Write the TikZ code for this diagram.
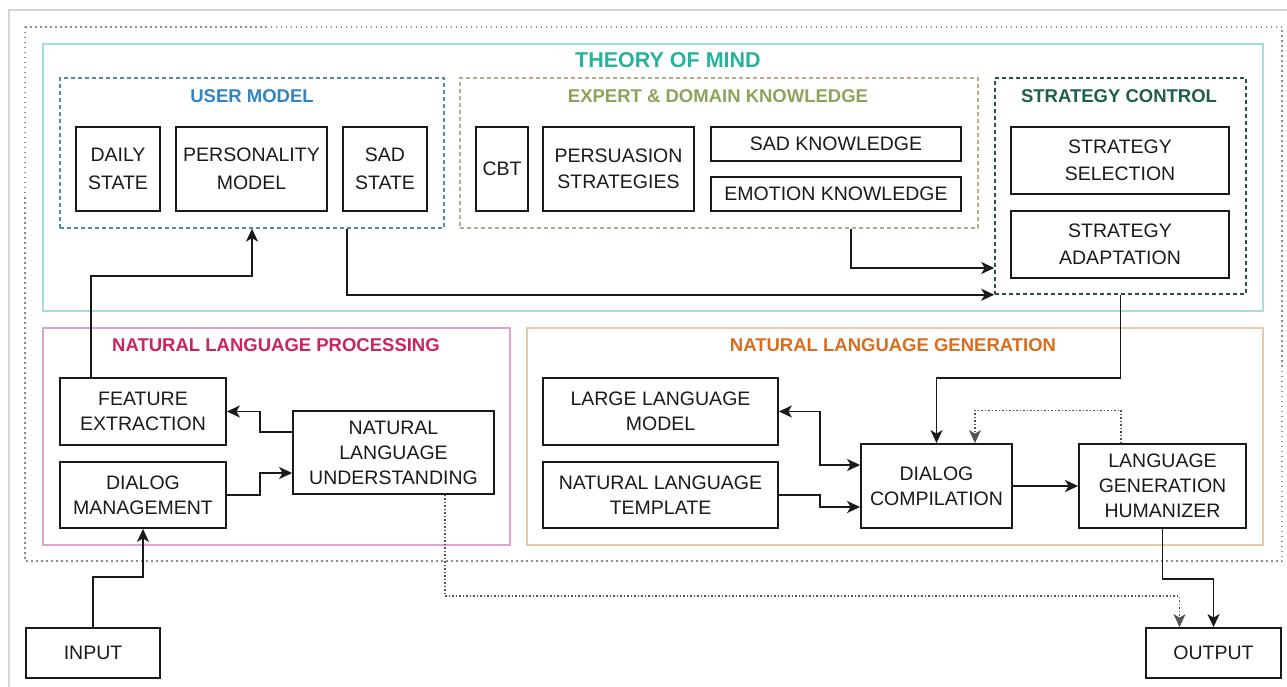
\documentclass[tikz,border=0pt]{standalone}
\usepackage{fontspec}
\setmainfont{Liberation Sans}
\usetikzlibrary{arrows.meta}
\definecolor{ink}{HTML}{1A1A1A}
\definecolor{tomline}{HTML}{A8DCD8}
\definecolor{tomtxt}{HTML}{27B39B}
\definecolor{umline}{HTML}{4F8AA8}
\definecolor{umtxt}{HTML}{2F85C8}
\definecolor{exline}{HTML}{B5AE88}
\definecolor{extxt}{HTML}{8AA55A}
\definecolor{scline}{HTML}{2A4F4C}
\definecolor{sctxt}{HTML}{1D5E4D}
\definecolor{nlpline}{HTML}{DDA6C6}
\definecolor{nlptxt}{HTML}{C9245F}
\definecolor{nlgline}{HTML}{E3CBAE}
\definecolor{nlgtxt}{HTML}{D96D1E}
\definecolor{frame}{HTML}{D4D4D4}
\definecolor{outer}{HTML}{8C8C8C}
\tikzset{
  box/.style={draw=ink, line width=1.8pt, fill=white, text=ink, align=center,
    font=\fontsize{19.5}{25}\selectfont, inner sep=0pt},
  tallbox/.style={box, font=\fontsize{19.5}{28}\selectfont},
  title/.style={font=\fontsize{18.5}{22}\selectfont\bfseries, inner sep=0pt},
  tip/.tip={Stealth[length=13pt,width=12pt,inset=3.5pt]},
  arr/.style={draw=ink, line width=1.7pt, -tip},
  arrtwo/.style={draw=ink, line width=1.7pt, tip-tip},
  dotarr/.style={draw=ink!75, line width=1.2pt, dash pattern=on 1.5pt off 2pt, -tip},
}
\begin{document}
\begin{tikzpicture}[x=1pt,y=-1pt]
\useasboundingbox (0,0) rectangle (1287,687);
% screenshot frame
\draw[frame, line width=1.2pt] (9,687) -- (9,10) -- (1287,10);
% outer dotted
\draw[outer, line width=1.2pt, dash pattern=on 1.5pt off 3.5pt] (25,27) rectangle (1282,561);
% group containers
\node[draw=tomline, line width=1.6pt, minimum width=1220pt, minimum height=267pt] (tom) at (653,177.5) {};
\node[title, text=tomtxt, font=\fontsize{21.5}{24}\selectfont\bfseries] (tomt) at (668,60) {THEORY OF MIND};
\node[draw=umline, line width=1.3pt, dash pattern=on 4pt off 3pt, minimum width=384pt, minimum height=150pt] (um) at (252,153) {};
\node[title, text=umtxt] (umt) at (252,96) {USER MODEL};
\node[draw=exline, line width=1.3pt, dash pattern=on 4pt off 3pt, minimum width=518pt, minimum height=150pt] (ex) at (719,153) {};
\node[title, text=extxt] (ext) at (718,96) {EXPERT \& DOMAIN KNOWLEDGE};
\node[draw=scline, line width=1.5pt, dash pattern=on 4pt off 3pt, minimum width=251pt, minimum height=216pt] (sc) at (1120.5,186) {};
\node[title, text=sctxt] (sct) at (1119,96) {STRATEGY CONTROL};
\node[draw=nlpline, line width=1.6pt, minimum width=467pt, minimum height=217pt] (nlp) at (276.5,436.5) {};
\node[title, text=nlptxt] (nlpt) at (276,345) {NATURAL LANGUAGE PROCESSING};
\node[draw=nlgline, line width=1.6pt, minimum width=736pt, minimum height=217pt] (nlg) at (895,436.5) {};
\node[title, text=nlgtxt] (nlgt) at (893,345) {NATURAL LANGUAGE GENERATION};
% boxes
\node[tallbox, minimum width=84pt, minimum height=84pt] (daily) at (118,169) {DAILY\\STATE};
\node[tallbox, minimum width=151pt, minimum height=84pt] (pers) at (251.5,169) {PERSONALITY\\MODEL};
\node[tallbox, minimum width=84pt, minimum height=84pt] (sads) at (385,169) {SAD\\STATE};
\node[box, minimum width=52pt, minimum height=84pt] (cbt) at (502,169) {CBT};
\node[box, minimum width=151pt, minimum height=84pt, font=\fontsize{19.5}{26}\selectfont] (persu) at (618.5,169) {PERSUASION\\STRATEGIES};
\node[box, minimum width=250pt, minimum height=34pt] (sadk) at (836,144) {SAD KNOWLEDGE};
\node[box, minimum width=250pt, minimum height=34pt] (emok) at (836,194) {EMOTION KNOWLEDGE};
\node[box, minimum width=218pt, minimum height=67pt, font=\fontsize{19.5}{27}\selectfont] (ssel) at (1120,160.5) {STRATEGY\\SELECTION};
\node[box, minimum width=218pt, minimum height=67pt, font=\fontsize{19.5}{27}\selectfont] (sadp) at (1120,244.5) {STRATEGY\\ADAPTATION};
\node[box, minimum width=166pt, minimum height=67pt] (fe) at (143,411.5) {FEATURE\\EXTRACTION};
\node[box, minimum width=166pt, minimum height=66pt] (dm) at (143,495) {DIALOG\\MANAGEMENT};
\node[box, minimum width=201pt, minimum height=83pt] (nlu) at (393.5,452.5) {NATURAL\\LANGUAGE\\UNDERSTANDING};
\node[box, minimum width=235pt, minimum height=67pt] (llm) at (660.5,411.5) {LARGE LANGUAGE\\MODEL};
\node[box, minimum width=235pt, minimum height=66pt] (nlt) at (660.5,495) {NATURAL LANGUAGE\\TEMPLATE};
\node[box, minimum width=151pt, minimum height=84pt] (dc) at (936.5,486) {DIALOG\\COMPILATION};
\node[box, minimum width=167pt, minimum height=84pt] (lgh) at (1162.5,486) {LANGUAGE\\GENERATION\\HUMANIZER};
\node[box, minimum width=134pt, minimum height=50pt] (inp) at (93,653) {INPUT};
\node[box, minimum width=135pt, minimum height=50pt] (outp) at (1213.5,653) {OUTPUT};
% connectors
\draw[arr] ([xshift=32pt]fe.north west) -- ++(0,-101) -| (um.south);
\draw[arr] ([xshift=-98pt]um.south east) |- (sc.south west);
\draw[arr] ([xshift=-128pt]ex.south east) |- (sc.west |- 0,268);
\draw[arr] (sc.south) -- (sc.south |- 0,378) -| (dc.north);
\draw[arr] (nlu.west |- 0,432) -- (260,432) |- (fe.east);
\draw[arr] (dm.east) -- (260,495) |- (nlu.west |- 0,473);
\draw[arr] (inp.north) -- ++(0,-50) -| (dm.south);
\draw[dotarr] ([xshift=-50pt]nlu.south east) -- ++(0,101) -| ([xshift=-34pt]outp.north);
\draw[arrtwo] (llm.east) -- (820,411.5) |- (dc.west |- 0,465);
\draw[arr] (nlt.east) -- (820,495) |- (dc.west |- 0,507);
\draw[arr] (dc.east) -- (lgh.west);
\draw[dotarr] ([xshift=-41.5pt]lgh.north) -- ++(0,-33) -| ([xshift=38.5pt]dc.north);
\draw[arr] (lgh.south) -- ++(0,50) -| (outp.north);
\end{tikzpicture}
\end{document}
